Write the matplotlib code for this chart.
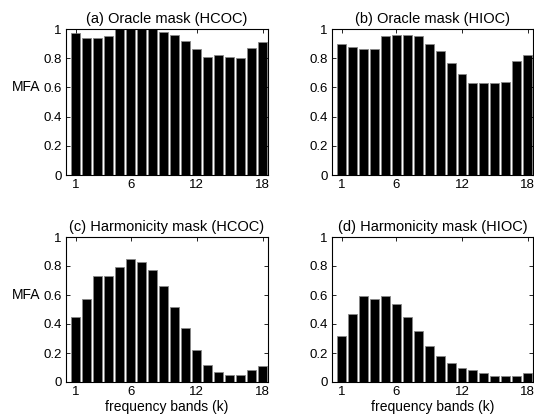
import matplotlib
matplotlib.use('Agg')
import matplotlib.pyplot as plt
import numpy as np

plt.rcParams['font.family'] = ['Liberation Sans', 'DejaVu Sans']

bands = np.arange(1, 19)

oracle_hcoc = [0.97, 0.94, 0.94, 0.95, 1.0, 1.0, 1.0, 1.0, 0.98, 0.96,
               0.92, 0.86, 0.81, 0.82, 0.81, 0.80, 0.87, 0.91]
oracle_hioc = [0.90, 0.88, 0.86, 0.86, 0.95, 0.96, 0.96, 0.95, 0.90, 0.85,
               0.77, 0.69, 0.63, 0.63, 0.63, 0.64, 0.78, 0.82]
harm_hcoc = [0.45, 0.57, 0.73, 0.73, 0.79, 0.85, 0.83, 0.77, 0.66, 0.52,
             0.37, 0.22, 0.12, 0.07, 0.05, 0.05, 0.08, 0.11]
harm_hioc = [0.32, 0.47, 0.59, 0.57, 0.59, 0.54, 0.45, 0.35, 0.25, 0.18,
             0.13, 0.10, 0.08, 0.06, 0.04, 0.04, 0.04, 0.06]

titles = ['(a) Oracle mask (HCOC)', '(b) Oracle mask (HIOC)',
          '(c) Harmonicity mask (HCOC)', '(d) Harmonicity mask (HIOC)']
series = [oracle_hcoc, oracle_hioc, harm_hcoc, harm_hioc]

W, H = 534, 418
fig = plt.figure(figsize=(W / 100, H / 100), dpi=100)

# axes boxes in pixels: left, top, right, bottom
boxes = [(66, 29, 268, 175), (332, 29, 533, 175),
         (66, 237, 268, 382), (332, 237, 533, 382)]

for i, (vals, title, box) in enumerate(zip(series, titles, boxes)):
    l, t, r, b = box
    ax = fig.add_axes([l / W, 1 - b / H, (r - l) / W, (b - t) / H])
    ax.bar(bands, vals, width=0.82, color='black', edgecolor='#888888',
           linewidth=0.6)
    ax.set_xlim(0.1, 18.5)
    ax.set_ylim(0, 1)
    ax.set_xticks([1, 6, 12, 18])
    ax.set_yticks([0, 0.2, 0.4, 0.6, 0.8, 1.0])
    ax.set_yticklabels(['0', '0.2', '0.4', '0.6', '0.8', '1'])
    ax.tick_params(direction='in', top=True, right=True, labelsize=9.5,
                   length=3, width=0.6, pad=3)
    for s in ax.spines.values():
        s.set_linewidth(0.8)
    ax.set_title(title, fontsize=10.5, pad=4)
    if i % 2 == 0:
        ax.set_ylabel('MFA', fontsize=10, rotation=0, ha='right', va='center')
        ax.yaxis.set_label_coords(-0.125, 0.6)
    if i >= 2:
        ax.set_xlabel('frequency bands (k)', fontsize=10, labelpad=1)

fig.savefig('out.png', dpi=100)
